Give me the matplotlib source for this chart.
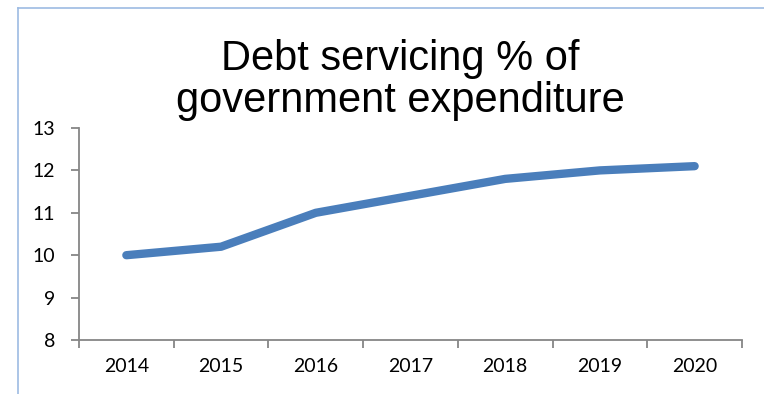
import numpy as np
import matplotlib.pyplot as plt
from matplotlib.lines import Line2D

years = ['2014', '2015', '2016', '2017', '2018', '2019', '2020']
debt_pct = [10.0, 10.2, 11.0, 11.4, 11.8, 12.0, 12.1]
y_ticks = [8, 9, 10, 11, 12, 13]

fig = plt.figure(figsize=(7.64, 3.94), dpi=100)
ax = fig.add_axes([79 / 764, 1 - 340 / 394, (742 - 79) / 764, (340 - 128) / 394])

x = np.arange(len(years))
ax.plot(x, debt_pct, color='#4a7ebb', linewidth=6, solid_capstyle='round', solid_joinstyle='round')

ax.set_xlim(-0.5, len(years) - 0.5)
ax.set_ylim(8, 13)
ax.set_yticks(y_ticks)

# category ticks sit between the years, labels in the middle
ax.set_xticks(np.arange(len(years) + 1) - 0.5)
ax.set_xticklabels([])
ax.set_xticks(x, minor=True)
ax.set_xticklabels(years, minor=True)
ax.tick_params(axis='x', which='minor', length=0, pad=13)
ax.tick_params(axis='x', which='major', length=6, width=1.3, color='#868686')
ax.tick_params(axis='y', length=6, width=1.3, color='#868686', pad=11)

for lab in ax.get_xticklabels(minor=True) + ax.get_yticklabels():
    lab.set_fontfamily('Lato')
    lab.set_fontsize(14)

for s in ['top', 'right']:
    ax.spines[s].set_visible(False)
for s in ['left', 'bottom']:
    ax.spines[s].set_color('#868686')
    ax.spines[s].set_linewidth(1.3)

fig.text(400 / 764, 1 - 80 / 394, 'Debt servicing % of\ngovernment expenditure',
         ha='center', va='center', fontsize=30, family='Liberation Sans', linespacing=1.05)

# chart area border (left and top edges)
fig.add_artist(Line2D([17.5 / 764, 17.5 / 764], [0, 1 - 8 / 394], color='#9dbbe3', linewidth=1.2))
fig.add_artist(Line2D([17.5 / 764, 1], [1 - 8 / 394, 1 - 8 / 394], color='#9dbbe3', linewidth=1.2))

fig.savefig('out.png', dpi=100)
